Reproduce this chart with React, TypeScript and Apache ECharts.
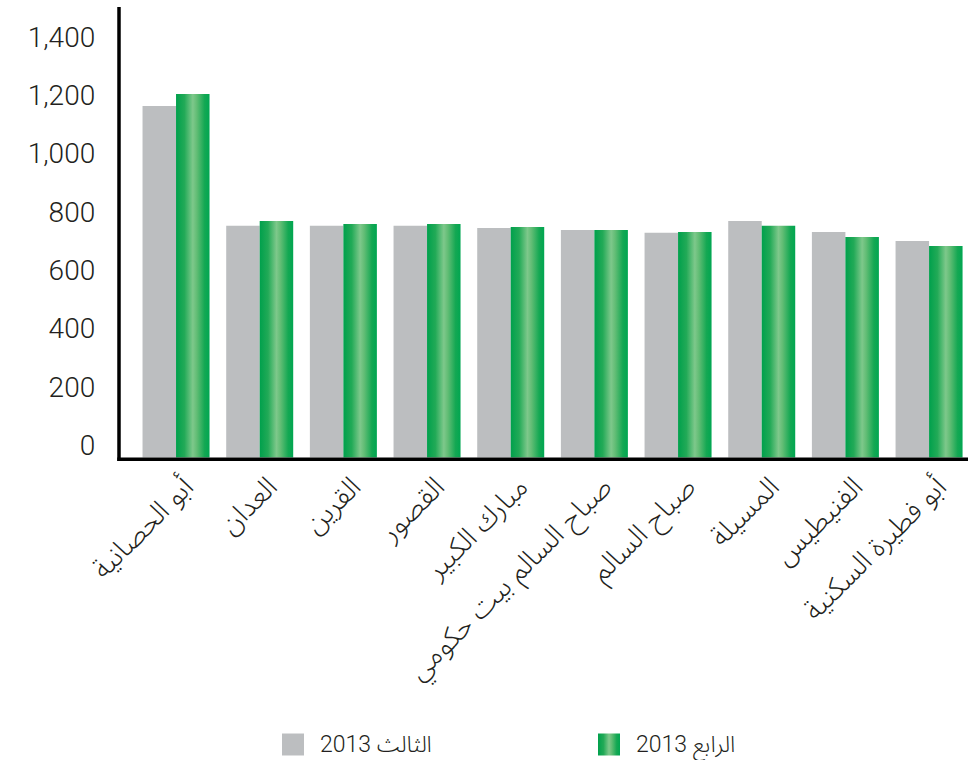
import React, { useEffect, useRef } from "react";
import * as echarts from "echarts";

// Districts (category axis)
const categories: string[] = [
  "أبو الحصانية",
  "العدان",
  "القرين",
  "القصور",
  "مبارك الكبير",
  "صباح السالم بيت حكومي",
  "صباح السالم",
  "المسيلة",
  "الفنيطيس",
  "أبو فطيرة السكنية",
];

// Series names
const seriesQ3 = "الثالث 2013";
const seriesQ4 = "الرابع 2013";

// Values per district
const q3Values: number[] = [1164, 753, 753, 753, 746, 739, 729, 770, 732, 701];
const q4Values: number[] = [1205, 770, 759, 759, 749, 739, 732, 753, 715, 684];

// Value axis labels
const yTickValues: number[] = [0, 200, 400, 600, 800, 1000, 1200, 1400];

const AXIS_MIN = -41.2;
const AXIS_MAX = 1500;

const textColor = "#231f20";
const numFont = "Roboto, 'Helvetica Neue', Arial, sans-serif";
const arabicFont = "'Noto Sans Arabic', 'DejaVu Sans', sans-serif";

const greenGradient = new echarts.graphic.LinearGradient(0, 0, 1, 0, [
  { offset: 0, color: "#00a04c" },
  { offset: 0.25, color: "#22aa57" },
  { offset: 0.5, color: "#7ec88b" },
  { offset: 0.62, color: "#62bd75" },
  { offset: 0.85, color: "#14a853" },
  { offset: 1, color: "#00a651" },
]);

const GRID_LEFT = 134.2;
const GRID_WIDTH = 836.7;
const GRID_TOP = 8;
const GRID_HEIGHT = 449.5;
const LABEL_SHIFT = 13;

export default function App() {
  const ref = useRef<HTMLDivElement>(null);

  useEffect(() => {
    if (!ref.current) return;
    const chart = echarts.init(ref.current, undefined, { renderer: "svg" });

    const legendText = {
      fontSize: 23,
      lineHeight: 22,
      color: textColor,
      fontFamily: "Roboto, 'Noto Sans Arabic', sans-serif",
      fontWeight: 300,
      padding: [0, 0, 0, 11],
    };

    chart.setOption({
      animation: false,
      backgroundColor: "#ffffff",
      grid: [
        { left: GRID_LEFT, top: GRID_TOP, width: GRID_WIDTH, height: GRID_HEIGHT, outerBoundsMode: "none" },
        { left: GRID_LEFT + LABEL_SHIFT, top: GRID_TOP, width: GRID_WIDTH, height: GRID_HEIGHT, outerBoundsMode: "none" },
      ],
      xAxis: [
        {
          type: "category",
          gridIndex: 0,
          data: categories,
          axisLine: { show: false },
          axisTick: { show: false },
          axisLabel: { show: false },
        },
        {
          type: "category",
          gridIndex: 1,
          data: categories,
          axisLine: { show: false },
          axisTick: { show: false },
          axisLabel: {
            interval: 0,
            rotate: 45,
            margin: 25,
            fontSize: 28,
            fontWeight: 300,
            color: textColor,
            fontFamily: arabicFont,
          },
        },
      ],
      yAxis: [
        {
          type: "value",
          gridIndex: 0,
          min: AXIS_MIN,
          max: AXIS_MAX,
          startValue: AXIS_MIN,
          splitLine: { show: false },
          axisLine: { show: false },
          axisTick: { show: false },
          axisLabel: {
            customValues: yTickValues,
            formatter: (v: number) => v.toLocaleString("en-US"),
            margin: 39,
            fontSize: 28,
            fontWeight: 300,
            color: textColor,
            fontFamily: numFont,
          },
        },
        { type: "value", gridIndex: 1, show: false },
      ],
      legend: [
        {
          data: [seriesQ3],
          left: 282,
          top: 733,
          padding: 0,
          icon: "rect",
          itemWidth: 22,
          itemHeight: 22,
          textStyle: legendText,
        },
        {
          data: [seriesQ4],
          left: 598,
          top: 733,
          padding: 0,
          icon: "rect",
          itemWidth: 22,
          itemHeight: 22,
          textStyle: legendText,
        },
      ],
      series: [
        {
          type: "bar",
          name: seriesQ3,
          data: q3Values,
          barWidth: 33.5,
          barGap: "0%",
          itemStyle: { color: "#bcbec0" },
        },
        {
          type: "bar",
          name: seriesQ4,
          data: q4Values,
          barWidth: 33.5,
          barGap: "0%",
          itemStyle: { color: greenGradient },
        },
      ],
      graphic: [
        {
          type: "line",
          shape: { x1: 119, y1: 7, x2: 119, y2: 461 },
          style: { stroke: "#000000", lineWidth: 3.5 },
          z: 10,
        },
        {
          type: "line",
          shape: { x1: 117.3, y1: 459.3, x2: 968, y2: 459.3 },
          style: { stroke: "#000000", lineWidth: 3.5 },
          z: 10,
        },
      ],
    });

    return () => chart.dispose();
  }, []);

  return (
    <div
      ref={ref}
      style={{ position: "fixed", left: 0, top: 0, width: 968, height: 760, background: "#fff" }}
    />
  );
}
